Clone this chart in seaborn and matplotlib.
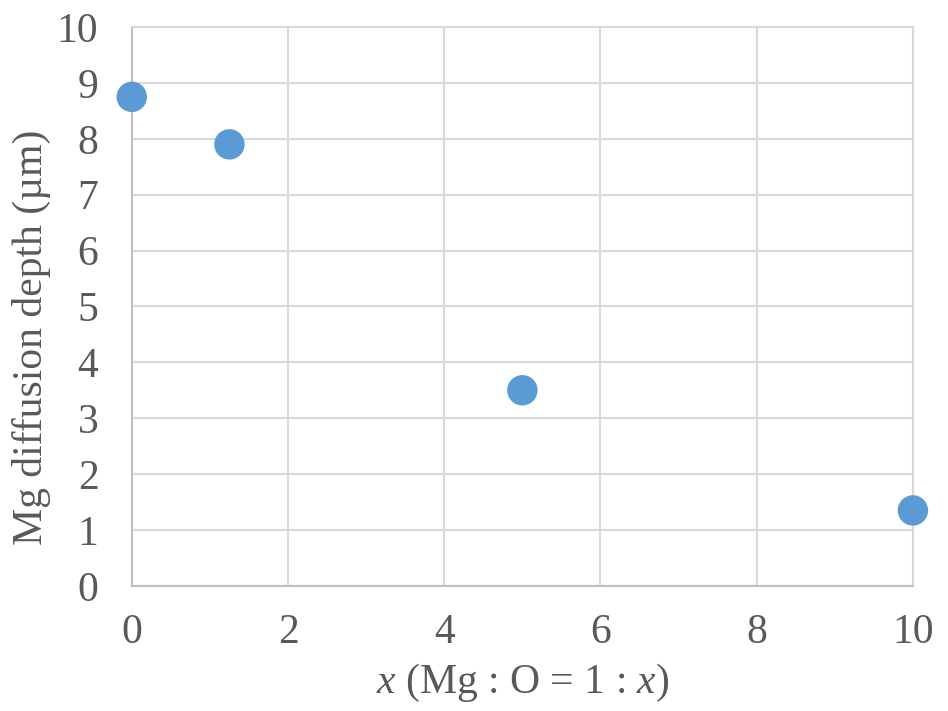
import matplotlib
matplotlib.use('Agg')
import matplotlib.pyplot as plt
import seaborn as sns
import pandas as pd

# values
ratio_x = [0, 1.25, 5, 10]
depth_um = [8.75, 7.9, 3.5, 1.35]

xticks = [0, 2, 4, 6, 8, 10]
yticks = list(range(0, 11))

sns.set_theme(style='whitegrid')
plt.rcParams['font.family'] = ['Liberation Serif', 'DejaVu Serif']
plt.rcParams['mathtext.fontset'] = 'custom'
plt.rcParams['mathtext.rm'] = 'Liberation Serif'
plt.rcParams['mathtext.it'] = 'Liberation Serif:italic'

text_col = '#595959'
grid_col = '#d9d9d9'
spine_col = '#bfbfbf'

df = pd.DataFrame({'x': ratio_x, 'depth': depth_um})

fig, ax = plt.subplots(figsize=(9.48, 7.11), dpi=100)
fig.subplots_adjust(left=0.139, right=0.963, bottom=0.176, top=0.962)

sns.scatterplot(data=df, x='x', y='depth', ax=ax, s=480, color='#5b9bd5',
                edgecolor='none', zorder=5, clip_on=False)

ax.set_xlim(0, 10)
ax.set_ylim(0, 10)
ax.set_xticks(xticks)
ax.set_yticks(yticks)
ax.grid(True, color=grid_col, linewidth=1.5)
ax.set_axisbelow(True)

for side in ['top', 'right']:
    ax.spines[side].set_color(grid_col)
    ax.spines[side].set_linewidth(1.5)
for side in ['left', 'bottom']:
    ax.spines[side].set_color(spine_col)
    ax.spines[side].set_linewidth(1.5)

ax.tick_params(axis='both', length=0, labelsize=30, labelcolor=text_col)
ax.tick_params(axis='x', pad=20)
ax.tick_params(axis='y', pad=24)

ax.set_xlabel(r'$x$ (Mg : O = 1 : $x$)', fontsize=30, color=text_col, labelpad=7)
ax.set_ylabel('Mg diffusion depth (µm)', fontsize=30, color=text_col)
# label sits a little below the axis middle in the original
ax.yaxis.set_label_coords(-0.103, 0.444)

plt.savefig('out.png', dpi=100)
